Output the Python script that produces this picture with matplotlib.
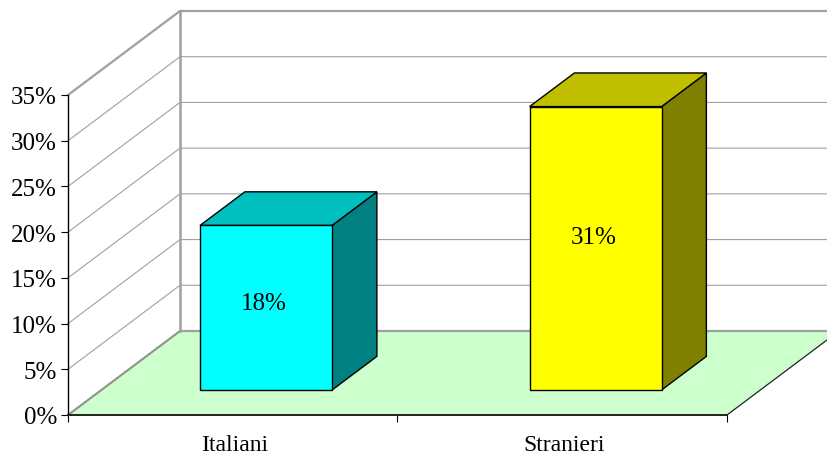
import matplotlib
matplotlib.use("Agg")
import matplotlib.pyplot as plt
from matplotlib.patches import Polygon

categories = ["Italiani", "Stranieri"]
values = [18, 31]
front_colors = ["#00FFFF", "#FFFF00"]
top_colors = ["#00BFBF", "#BFBF00"]
side_colors = ["#008080", "#808000"]
y_ticks = [0, 5, 10, 15, 20, 25, 30, 35]

W, H = 828, 456
plt.rcParams["font.family"] = ["Liberation Serif", "DejaVu Serif"]
plt.rcParams["font.size"] = 18

fig = plt.figure(figsize=(W / 100, H / 100), dpi=100)
# front plane of the 3d box, in pixels: x 68-727, y 95-415
ax = fig.add_axes([68 / W, 1 - 416 / H, (727 - 68) / W, (416 - 96) / H])
ax.set_xlim(0, len(categories))
ax.set_ylim(0, 35)
ax.patch.set_visible(False)

# depth of the box in data units
depth_x = 112 / ((727 - 68) / 2)
depth_y = 84 / (320 / 35)
n = len(categories)
grid_col = "#a0a0a0"


def poly(pts, fc="none", ec="black", lw=1.0, z=2):
    ax.add_patch(Polygon(pts, closed=True, fc=fc, ec=ec, lw=lw, zorder=z, clip_on=False))


# floor and walls
poly([(0, 0), (n, 0), (n + depth_x, depth_y), (depth_x, depth_y)], fc="#CCFFCC", ec="none", z=1)
ax.plot([n, n + depth_x], [0, depth_y], color="#222222", lw=0.9, clip_on=False, zorder=2)
ax.plot([0, depth_x], [0, depth_y], color="#909090", lw=1.5, clip_on=False, zorder=2)
ax.plot([depth_x, n + depth_x], [depth_y, depth_y], color=grid_col, lw=1.6, clip_on=False, zorder=2)
for t in y_ticks[1:-1]:
    ax.plot([0, depth_x, n + depth_x], [t, t + depth_y, t + depth_y], color=grid_col, lw=0.8,
            clip_on=False, zorder=1)
# top edge of the walls is heavier
ax.plot([0, depth_x, n + depth_x], [35, 35 + depth_y, 35 + depth_y], color=grid_col, lw=1.6,
        clip_on=False, zorder=1)
ax.plot([depth_x, depth_x], [depth_y, 35 + depth_y], color=grid_col, lw=1.8, clip_on=False, zorder=1)

# bars
bar_w = 132 / ((727 - 68) / 2)
frac = 25 / 84
for i, (name, v) in enumerate(zip(categories, values)):
    x0 = i + 0.5 - bar_w / 2 + depth_x * frac
    x1 = x0 + bar_w
    y0 = depth_y * frac
    y1 = y0 + v
    dx = depth_x * 0.40
    dy = depth_y * 0.40
    poly([(x1, y0), (x1 + dx, y0 + dy), (x1 + dx, y1 + dy), (x1, y1)], fc=side_colors[i], z=3)
    poly([(x0, y1), (x1, y1), (x1 + dx, y1 + dy), (x0 + dx, y1 + dy)], fc=top_colors[i], z=3)
    poly([(x0, y0), (x1, y0), (x1, y1), (x0, y1)], fc=front_colors[i], z=4)
    ax.text((x0 + x1) / 2 - 0.006, y0 + v * 0.556 - 0.5, f"{v}%", ha="center", va="center", zorder=5)

# axes
for s in ("top", "right"):
    ax.spines[s].set_visible(False)
ax.spines["left"].set_linewidth(1.0)
ax.spines["bottom"].set_linewidth(1.4)
ax.spines["bottom"].set_color("#222222")
ax.spines["left"].set_zorder(2.5)
ax.spines["bottom"].set_zorder(2.5)
ax.set_yticks(y_ticks)
ax.set_yticklabels([f"{t}%" for t in y_ticks])
ax.set_xticks(range(n + 1))
ax.set_xticklabels([])
ax.set_xticks([i + 0.505 for i in range(n)], labels=categories, minor=True, fontsize=17)
ax.tick_params(axis="x", which="minor", length=0, pad=13.5)
ax.tick_params(axis="both", which="major", length=5, width=0.8, pad=3)

fig.savefig("out.png", dpi=100)
